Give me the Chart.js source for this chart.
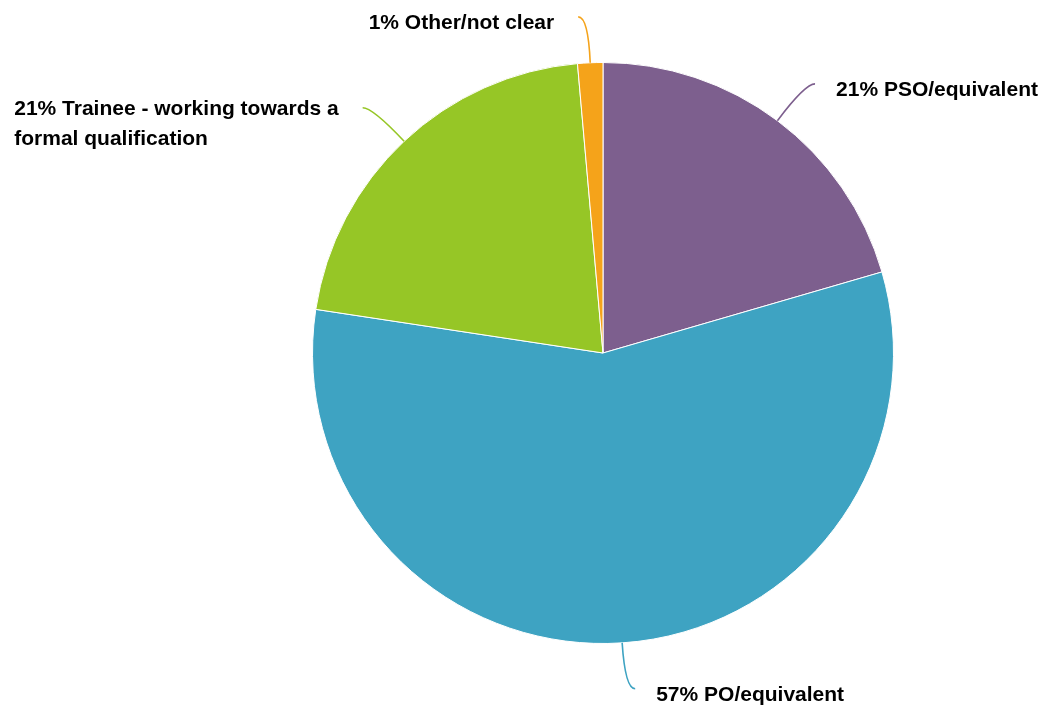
<!DOCTYPE html>
<html>
<head>
<meta charset="utf-8">
<script src="https://cdn.jsdelivr.net/npm/chart.js@4/dist/chart.umd.min.js"></script>
<style>
  html, body { margin: 0; padding: 0; background: #fff; }
  #wrap { width: 1047px; height: 714px; position: relative; }
</style>
</head>
<body>
<div id="wrap"><canvas id="pie"></canvas></div>
<script>
// Chart data
const categories = ['PSO/equivalent', 'PO/equivalent', 'Trainee - working towards a formal qualification', 'Other/not clear'];
const shares = [20.5, 56.9, 21.2, 1.4];
const sliceColors = ['#7D5F8E', '#3EA3C2', '#96C626', '#F5A31A'];

// Leader lines + labels
const calloutPlugin = {
    id: 'callouts',
    afterDatasetsDraw(chart) {
        const ctx = chart.ctx;
        const meta = chart.getDatasetMeta(0);
        ctx.save();
        ctx.font = 'bold 21px "Liberation Sans", Arial, sans-serif';
        ctx.textBaseline = 'middle';
        ctx.textAlign = 'left';
        meta.data.forEach((arc, i) => {
            const { x, y, startAngle, endAngle, outerRadius } = arc.getProps(['x', 'y', 'startAngle', 'endAngle', 'outerRadius'], true);
            const mid = (startAngle + endAngle) / 2;
            const dx = Math.cos(mid), dy = Math.sin(mid);
            const side = dx >= 0 ? 1 : -1;
            const p0 = { x: x + outerRadius * dx, y: y + outerRadius * dy };
            const p1 = { x: x + (outerRadius + 46) * dx, y: y + (outerRadius + 46) * dy };
            const p2 = { x: p1.x + side * 10, y: p1.y };

            ctx.strokeStyle = sliceColors[i];
            ctx.lineWidth = 1.6;
            ctx.beginPath();
            ctx.moveTo(p0.x, p0.y);
            ctx.quadraticCurveTo(p1.x, p1.y, p2.x, p2.y);
            ctx.stroke();

            const text = Math.round(shares[i]) + '% ' + categories[i];
            const lines = wrapText(ctx, text, 340);
            const blockW = Math.max(...lines.map(l => ctx.measureText(l).width));
            ctx.fillStyle = '#000';
            const tx = side > 0 ? p2.x + 21 : p2.x - 24 - blockW;
            let ty = lines.length > 1 ? p2.y + 2 : p2.y + 6;
            lines.forEach((line, k) => {
                ctx.fillText(line, tx, ty + k * 30);
            });
        });
        ctx.restore();
    }
};

function wrapText(ctx, text, maxWidth) {
    const words = text.split(' ');
    const lines = [];
    let current = '';
    words.forEach(w => {
        const test = current ? current + ' ' + w : w;
        if (ctx.measureText(test).width > maxWidth && current) {
            lines.push(current);
            current = w;
        } else {
            current = test;
        }
    });
    if (current) lines.push(current);
    return lines;
}

new Chart(document.getElementById('pie'), {
    type: 'pie',
    data: {
        labels: categories,
        datasets: [{
            data: shares,
            backgroundColor: sliceColors,
            borderColor: '#ffffff',
            borderWidth: 1
        }]
    },
    options: {
        responsive: true,
        maintainAspectRatio: false,
        animation: false,
        layout: {
            padding: { top: 62, bottom: 70, left: 312, right: 153 }
        },
        plugins: {
            legend: { display: false },
            tooltip: { enabled: false }
        }
    },
    plugins: [calloutPlugin]
});
</script>
</body>
</html>
